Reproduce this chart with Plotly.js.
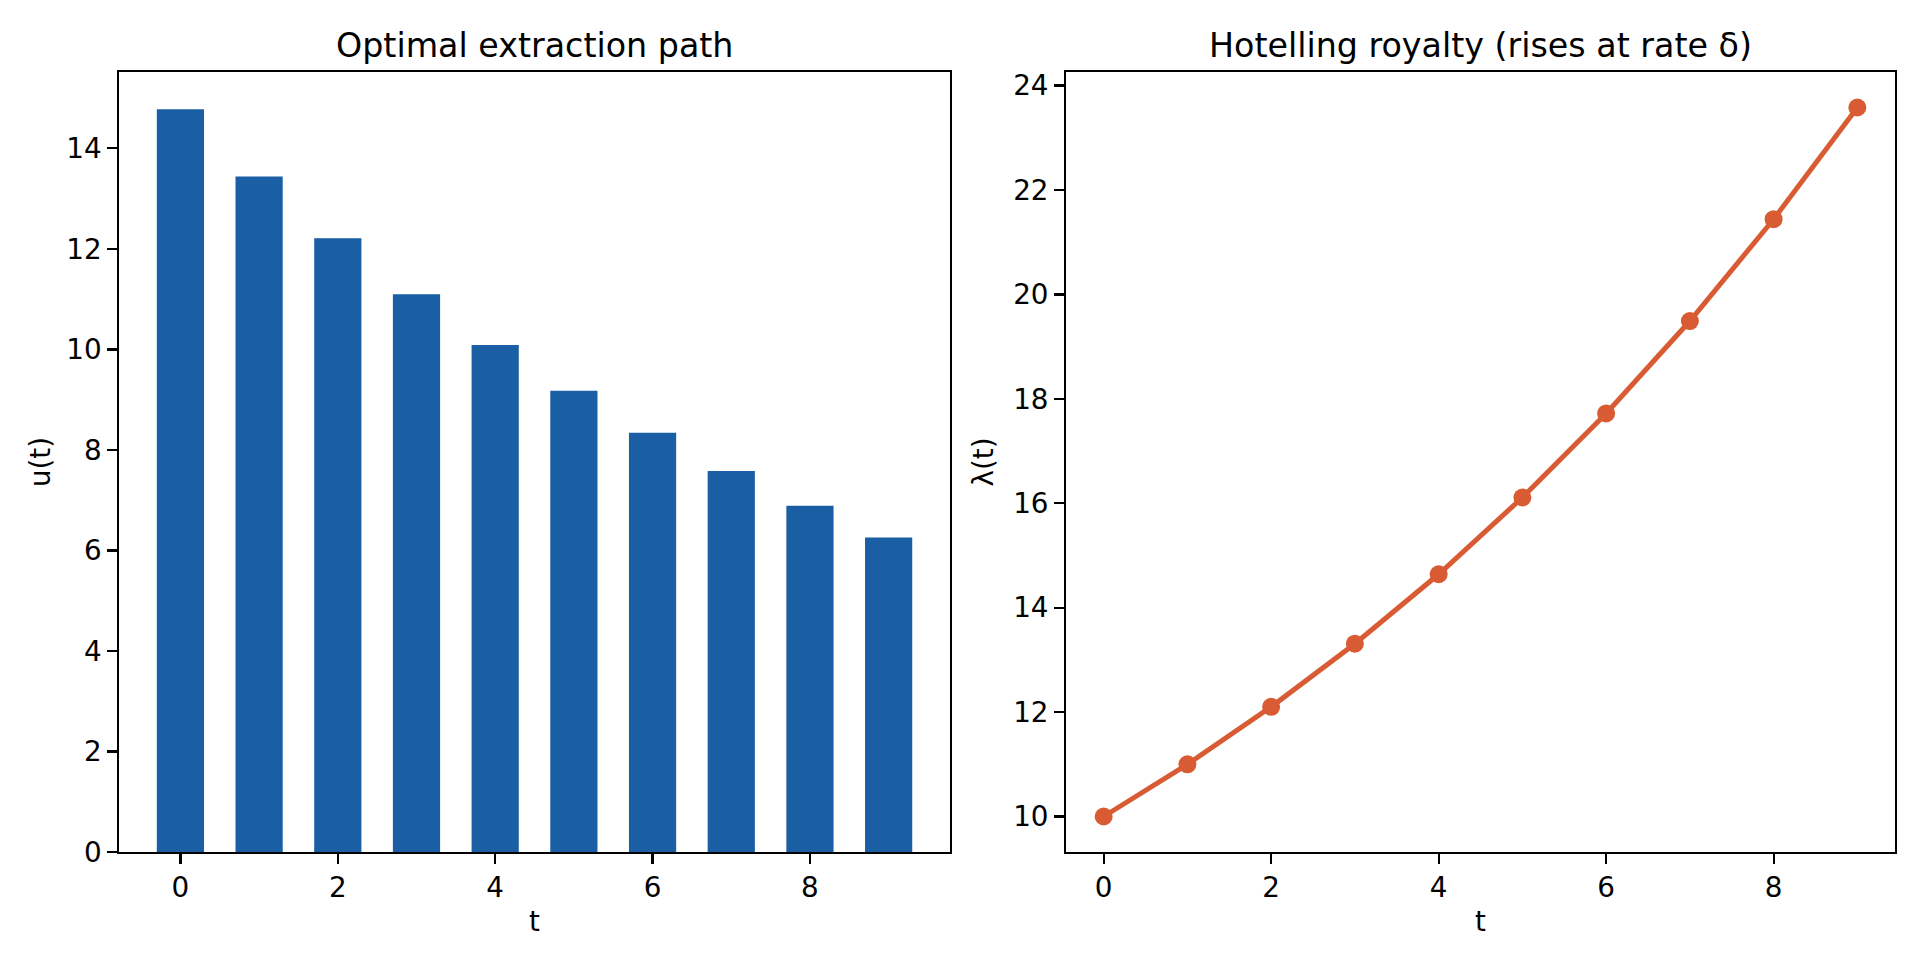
<!DOCTYPE html>
<html>
<head>
<meta charset="utf-8">
<script src="https://cdn.plot.ly/plotly-3.0.1.min.js"></script>
<style>
  html, body { margin: 0; padding: 0; background: #fff; }
  #chart { width: 1920px; height: 960px; }
</style>
</head>
<body>
<div id="chart"></div>
<script>
// values
var tSteps = [0, 1, 2, 3, 4, 5, 6, 7, 8, 9];
var extraction = [14.78, 13.44, 12.21, 11.10, 10.09, 9.18, 8.34, 7.58, 6.89, 6.26];
var royalty = [10.0, 11.0, 12.1, 13.31, 14.64, 16.11, 17.72, 19.49, 21.44, 23.58];

var xTicks = [0, 2, 4, 6, 8];
var uTicks = [0, 2, 4, 6, 8, 10, 12, 14];
var lamTicks = [10, 12, 14, 16, 18, 20, 22, 24];

var font = 'DejaVu Sans, sans-serif';

function axisStyle(extra) {
    var a = {
        showline: true,
        mirror: true,
        linecolor: '#000',
        linewidth: 2.2,
        ticks: 'outside',
        ticklen: 9.7,
        tickwidth: 2.2,
        tickcolor: '#000',
        showgrid: false,
        zeroline: false,
        tickfont: {family: font, size: 27.8, color: '#000'}
    };
    for (var k in extra) a[k] = extra[k];
    return a;
}

var barTrace = {
    x: tSteps,
    y: extraction,
    type: 'bar',
    width: 0.6,
    marker: {color: '#1a5ea3', line: {width: 0}},
    xaxis: 'x',
    yaxis: 'y',
    hoverinfo: 'skip'
};

var lineTrace = {
    x: tSteps,
    y: royalty,
    type: 'scatter',
    mode: 'lines+markers',
    line: {color: '#d95b33', width: 5},
    marker: {color: '#d95b33', size: 18},
    xaxis: 'x2',
    yaxis: 'y2',
    hoverinfo: 'skip'
};

var layout = {
    width: 1920,
    height: 960,
    margin: {l: 0, r: 0, t: 0, b: 0},
    paper_bgcolor: '#fff',
    plot_bgcolor: '#fff',
    showlegend: false,
    font: {family: font, color: '#000'},
    xaxis: axisStyle({
        domain: [0.062, 0.4948],
        anchor: 'y',
        range: [-0.78, 9.78],
        tickvals: xTicks,
        title: {text: 't', font: {family: font, size: 27.8}, standoff: 8}
    }),
    yaxis: axisStyle({
        domain: [0.1125, 0.925],
        anchor: 'x',
        range: [0, 15.52],
        tickvals: uTicks,
        title: {text: 'u(t)', font: {family: font, size: 27.8}, standoff: 8}
    }),
    xaxis2: axisStyle({
        domain: [0.5552, 0.987],
        anchor: 'y2',
        range: [-0.45, 9.45],
        tickvals: xTicks,
        title: {text: 't', font: {family: font, size: 27.8}, standoff: 8}
    }),
    yaxis2: axisStyle({
        domain: [0.1125, 0.925],
        anchor: 'x2',
        range: [9.32, 24.26],
        tickvals: lamTicks,
        title: {text: 'λ(t)', font: {family: font, size: 27.8}, standoff: 12}
    }),
    annotations: [
        {text: 'Optimal extraction path', xref: 'paper', yref: 'paper',
         x: (0.062 + 0.4948) / 2, y: 0.93, xanchor: 'center', yanchor: 'bottom',
         showarrow: false, font: {family: font, size: 33.3, color: '#000'}},
        {text: 'Hotelling royalty (rises at rate δ)', xref: 'paper', yref: 'paper',
         x: (0.5552 + 0.987) / 2, y: 0.93, xanchor: 'center', yanchor: 'bottom',
         showarrow: false, font: {family: font, size: 33.3, color: '#000'}}
    ]
};

Plotly.newPlot('chart', [barTrace, lineTrace], layout, {staticPlot: true, displayModeBar: false});
</script>
</body>
</html>
